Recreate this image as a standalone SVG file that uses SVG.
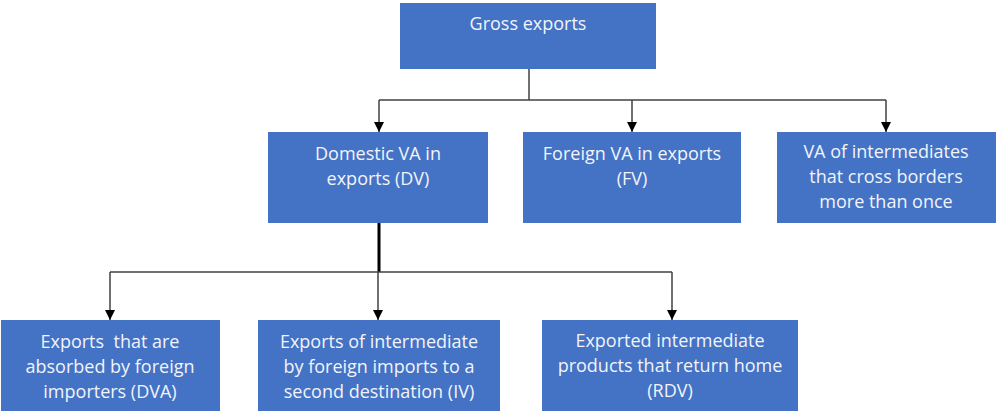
<svg xmlns="http://www.w3.org/2000/svg" width="997" height="411" viewBox="0 0 997 411">
<style>
.box{fill:#4472C4;}
.t{font-family:"Open Sans","Liberation Sans",sans-serif;font-size:18px;fill:#F2F4FA;text-anchor:middle;}
.c{fill:none;stroke:#404040;stroke-width:1.5;}
</style>
<defs>
<marker id="arr" viewBox="0 0 10 10" refX="10" refY="5" markerWidth="10" markerHeight="10" markerUnits="userSpaceOnUse" orient="auto">
<path d="M0,0 L10,5 L0,10 Z" fill="#000"/>
</marker>
</defs>
<g id="connectors">
<path class="c" d="M529,69 V100"/>
<path class="c" d="M379,100 H886"/>
<path class="c" d="M379,100 V132" marker-end="url(#arr)"/>
<path class="c" d="M632,100 V132" marker-end="url(#arr)"/>
<path class="c" d="M886,100 V132" marker-end="url(#arr)"/>
<path d="M379,223 V272" fill="none" stroke="#000" stroke-width="3"/>
<path class="c" d="M110,272 H672"/>
<path class="c" d="M110,272 V320" marker-end="url(#arr)"/>
<path class="c" d="M378,272 V320" marker-end="url(#arr)"/>
<path class="c" d="M672,272 V320" marker-end="url(#arr)"/>
</g>
<g id="gross">
<rect class="box" x="400" y="3" width="256" height="66"/>
<text class="t" x="528" y="30">Gross exports</text>
</g>
<g id="dv">
<rect class="box" x="268" y="132" width="220" height="91"/>
<text class="t" x="378" y="160">Domestic VA in</text>
<text class="t" x="378" y="185">exports (DV)</text>
</g>
<g id="fv">
<rect class="box" x="523" y="132" width="218" height="91"/>
<text class="t" x="632" y="160">Foreign VA in exports</text>
<text class="t" x="632" y="185">(FV)</text>
</g>
<g id="cross">
<rect class="box" x="777" y="132" width="219" height="91"/>
<text class="t" x="886" y="158">VA of intermediates</text>
<text class="t" x="886" y="183">that cross borders</text>
<text class="t" x="886" y="208">more than once</text>
</g>
<g id="dva">
<rect class="box" x="1" y="320" width="219" height="95"/>
<text class="t" x="110" y="348" style="white-space:pre">Exports  that are</text>
<text class="t" x="110" y="373">absorbed by foreign</text>
<text class="t" x="110" y="398">importers (DVA)</text>
</g>
<g id="iv">
<rect class="box" x="258" y="320" width="242" height="95"/>
<text class="t" x="379" y="348">Exports of intermediate</text>
<text class="t" x="379" y="373">by foreign imports to a</text>
<text class="t" x="379" y="398">second destination (IV)</text>
</g>
<g id="rdv">
<rect class="box" x="542" y="320" width="256" height="95"/>
<text class="t" x="670" y="347">Exported intermediate</text>
<text class="t" x="670" y="372">products that return home</text>
<text class="t" x="670" y="397">(RDV)</text>
</g>
</svg>
